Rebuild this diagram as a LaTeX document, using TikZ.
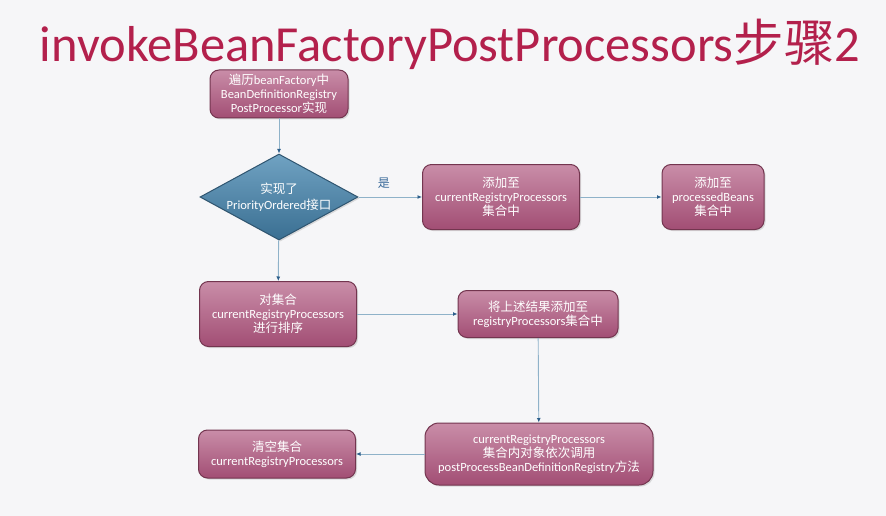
\documentclass[tikz,border=0pt]{standalone}
\usepackage{fontspec}
\setmainfont{Carlito}
\newfontfamily\cjk{Noto Sans CJK SC}
\usetikzlibrary{shapes.geometric,arrows.meta,shadows}
\definecolor{bgc}{HTML}{F6F6F8}
\definecolor{titlec}{HTML}{B3204C}
\definecolor{boxtop}{HTML}{C98DA8}
\definecolor{boxbot}{HTML}{A24E74}
\definecolor{boxline}{HTML}{73354F}
\definecolor{diatop}{HTML}{70A2C2}
\definecolor{diabot}{HTML}{3A6F92}
\definecolor{dialine}{HTML}{2F5570}
\definecolor{linec}{HTML}{8FB2C9}
\definecolor{tipc}{HTML}{2C5E8A}
\definecolor{yesc}{HTML}{3A6A9A}
\tikzset{
  procbox/.style={draw=boxline, line width=1pt, rounded corners=9pt,
    top color=boxtop, bottom color=boxbot, text=white, align=center,
    font=\fontsize{12.5}{14}\selectfont, inner sep=1pt,
    drop shadow={shadow xshift=1.5pt, shadow yshift=-1.5pt, opacity=0.25}},
  decision/.style={diamond, aspect=1.84, draw=dialine, line width=1pt,
    top color=diatop, bottom color=diabot, text=white, align=center,
    font=\fontsize{12.5}{16}\selectfont, inner sep=-8pt,
    drop shadow={shadow xshift=1.5pt, shadow yshift=-1.5pt, opacity=0.25}},
  conn/.style={draw=linec, line width=0.9pt,
    -{Latex[length=4.5pt,width=4pt,color=tipc]}},
}
\begin{document}
\begin{tikzpicture}[x=1pt,y=-1pt]
\fill[bgc] (0,0) rectangle (886,516);
\useasboundingbox (0,0) rectangle (886,516);

\node[text=titlec, font=\fontsize{50.5}{56}\selectfont, anchor=center] (title) at (450,44)
  {invokeBeanFactoryPostProcessors{\cjk 步骤}2};

\node[procbox, minimum width=138pt, minimum height=48pt] (b1) at (279,94)
  {{\cjk 遍历}beanFactory{\cjk 中}\\BeanDefinitionRegistry\\PostProcessor{\cjk 实现}};

\node[decision, minimum width=158pt, minimum height=86pt] (d1) at (279,197)
  {{\cjk 实现了}\\PriorityOrdered{\cjk 接口}};

\node[procbox, minimum width=157pt, minimum height=65pt] (b2) at (501,197)
  {{\cjk 添加至}\\currentRegistryProcessors\\{\cjk 集合中}};

\node[procbox, minimum width=102pt, minimum height=65pt] (b3) at (713,197)
  {{\cjk 添加至}\\processedBeans\\{\cjk 集合中}};

\node[procbox, minimum width=157pt, minimum height=65pt] (b4) at (278,314)
  {{\cjk 对集合}\\currentRegistryProcessors\\{\cjk 进行排序}};

\node[procbox, minimum width=160pt, minimum height=47pt] (b5) at (538,314)
  {{\cjk 将上述结果添加至}\\registryProcessors{\cjk 集合中}};

\node[procbox, rounded corners=14pt, minimum width=228pt, minimum height=62pt] (b6) at (539,454)
  {currentRegistryProcessors\\{\cjk 集合内对象依次调用}\\postProcessBeanDefinitionRegistry{\cjk 方法}};

\node[procbox, minimum width=157pt, minimum height=48pt] (b7) at (277,454)
  {{\cjk 清空集合}\\currentRegistryProcessors};

\draw[conn] (b1) -- (d1);
\draw[conn] (d1) -- node[pos=0.4, above=5pt, text=yesc, font=\cjk\fontsize{12}{14}\selectfont] (yes) {是} (b2);
\draw[conn] (b2) -- (b3);
\draw[conn] (d1) -- (b4);
\draw[conn] (b4) -- (b5);
\draw[conn] (b5) -- (b6);
\draw[conn] (b6) -- (b7);
\end{tikzpicture}
\end{document}
